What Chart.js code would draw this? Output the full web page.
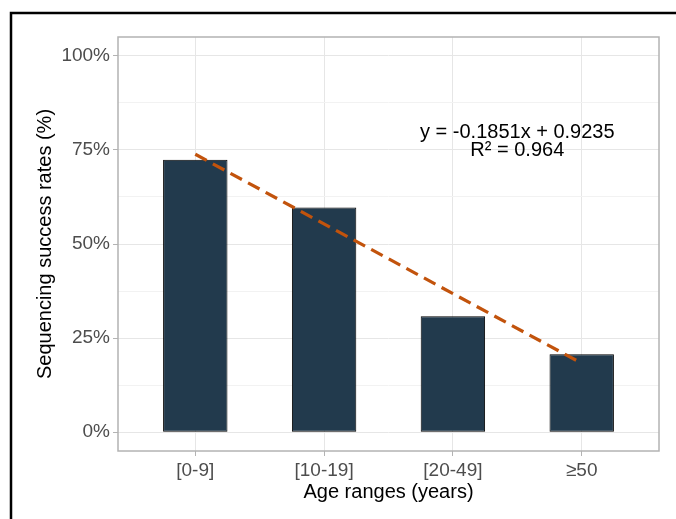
<!DOCTYPE html>
<html>
<head>
    <title>Sequencing success rates by age</title>
    <script src="https://cdn.jsdelivr.net/npm/chart.js"></script>
    <style>
        body { margin: 0; background: #ffffff; }
        #wrap { width: 676px; height: 519px; position: relative; }
    </style>
</head>
<body>
    <div id="wrap"><canvas id="ageChart"></canvas></div>

    <script>
        // data
        const ageRanges = ['[0-9]', '[10-19]', '[20-49]', '\u226550'];
        const successRates = [0.724, 0.597, 0.308, 0.207];
        const fitSlope = -0.1851;
        const fitIntercept = 0.9235;
        const fitR2 = 0.964;
        const yTickValues = [0, 0.125, 0.25, 0.375, 0.5, 0.625, 0.75, 0.875, 1];

        const FONT = "'Liberation Sans', Arial, Helvetica, sans-serif";

        const barPoints = successRates.map((v, i) => ({x: i + 1, y: v}));
        const fitPoints = [1, ageRanges.length].map(x => ({x: x, y: fitSlope * x + fitIntercept}));

        const isMajor = v => Math.abs(v * 4 - Math.round(v * 4)) < 1e-9;

        // panel border, outer black frame and the equation text
        const decorations = {
            id: 'decorations',
            beforeDatasetsDraw(chart) {
                const {ctx, chartArea: a} = chart;
                ctx.save();
                ctx.strokeStyle = '#b3b3b3';
                ctx.lineWidth = 1.5;
                ctx.strokeRect(a.left, a.top, a.right - a.left, a.bottom - a.top);
                ctx.restore();
            },
            afterDraw(chart) {
                const {ctx, scales} = chart;
                ctx.save();
                // equation label
                const cx = scales.x.getPixelForValue(3.5);
                const cy = scales.y.getPixelForValue(0.795);
                ctx.fillStyle = '#000000';
                ctx.font = '20px ' + FONT;
                ctx.textAlign = 'center';
                ctx.textBaseline = 'middle';
                ctx.fillText('y = ' + fitSlope + 'x + ' + fitIntercept, cx, cy);
                ctx.fillText('R\u00b2 = ' + fitR2, cx, cy + 18);
                // outer frame (top and left only)
                ctx.strokeStyle = '#000000';
                ctx.lineWidth = 2.5;
                ctx.beginPath();
                ctx.moveTo(11, chart.height);
                ctx.lineTo(11, 13);
                ctx.lineTo(chart.width, 13);
                ctx.stroke();
                ctx.restore();
            }
        };

        new Chart(document.getElementById('ageChart').getContext('2d'), {
            type: 'bar',
            data: {
                datasets: [{
                    type: 'bar',
                    data: barPoints,
                    backgroundColor: '#223a4d',
                    borderColor: '#000000',
                    borderWidth: 1,
                    borderSkipped: false,
                    barPercentage: 0.5,
                    categoryPercentage: 1.0,
                    order: 2
                }, {
                    type: 'line',
                    data: fitPoints,
                    borderColor: '#c2530c',
                    borderWidth: 3.2,
                    borderDash: [13, 7],
                    pointRadius: 0,
                    fill: false,
                    order: 1
                }]
            },
            options: {
                responsive: true,
                maintainAspectRatio: false,
                animation: false,
                layout: { padding: { top: 37, right: 17, left: 0, bottom: 0 } },
                plugins: { legend: { display: false }, tooltip: { enabled: false } },
                scales: {
                    x: {
                        type: 'linear',
                        min: 0.4,
                        max: 4.6,
                        offset: false,
                        afterBuildTicks: s => { s.ticks = ageRanges.map((_, i) => ({value: i + 1})); },
                        afterFit: s => { s.height = 68; },
                        ticks: {
                            autoSkip: false,
                            maxRotation: 0,
                            padding: 3,
                            color: '#4d4d4d',
                            font: { family: FONT, size: 19 },
                            callback: v => ageRanges[v - 1]
                        },
                        grid: { offset: false, color: '#e6e6e6', tickColor: '#b3b3b3', tickLength: 5 },
                        border: { display: false },
                        title: {
                            display: true,
                            text: 'Age ranges (years)',
                            color: '#000000',
                            font: { family: FONT, size: 20 },
                            padding: { top: 0, bottom: 15 }
                        }
                    },
                    y: {
                        type: 'linear',
                        min: -0.05,
                        max: 1.05,
                        afterBuildTicks: s => { s.ticks = yTickValues.map(v => ({value: v})); },
                        afterFit: s => { s.width = 118; },
                        ticks: {
                            autoSkip: false,
                            padding: 3,
                            color: '#4d4d4d',
                            font: { family: FONT, size: 19 },
                            callback: v => isMajor(v) ? Math.round(v * 100) + '%' : ''
                        },
                        grid: {
                            color: c => isMajor(c.tick.value) ? '#e6e6e6' : '#f2f2f2',
                            tickColor: c => isMajor(c.tick.value) ? '#b3b3b3' : 'rgba(0,0,0,0)',
                            tickLength: 5
                        },
                        border: { display: false },
                        title: {
                            display: true,
                            text: 'Sequencing success rates (%)',
                            color: '#000000',
                            font: { family: FONT, size: 20 },
                            padding: { top: 33, bottom: 0 }
                        }
                    }
                }
            },
            plugins: [decorations]
        });
    </script>
</body>
</html>
